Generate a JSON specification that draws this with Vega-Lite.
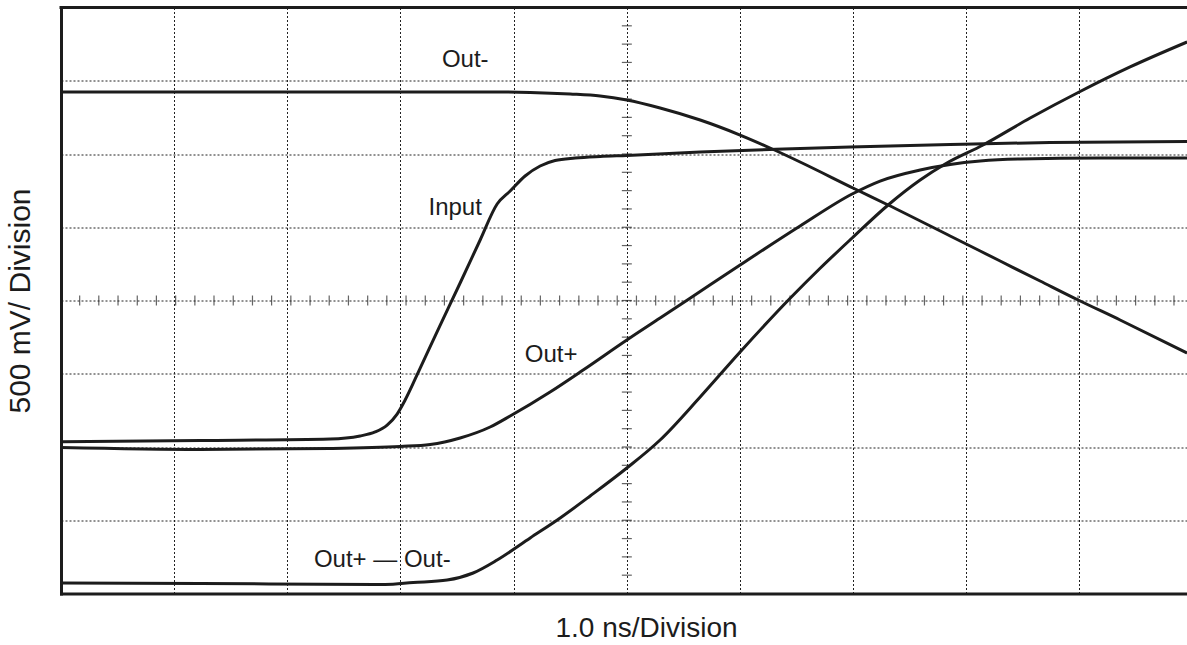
{
  "$schema": "https://vega.github.io/schema/vega-lite/v6.json",
  "width": 1126,
  "height": 586,
  "autosize": {"type": "none"},
  "padding": {"left": 61, "top": 7.5, "right": 0, "bottom": 51.5},
  "background": "white",
  "config": {"view": {"stroke": null}, "font": "Liberation Sans"},
  "datasets": {
    "curves": [
      {"series": "Out-", "x": -5.0, "y": 2.846},
      {"series": "Out-", "x": -2.887, "y": 2.846},
      {"series": "Out-", "x": -1.12, "y": 2.846},
      {"series": "Out-", "x": -0.854, "y": 2.84},
      {"series": "Out-", "x": -0.501, "y": 2.819},
      {"series": "Out-", "x": -0.236, "y": 2.792},
      {"series": "Out-", "x": 0.0, "y": 2.737},
      {"series": "Out-", "x": 0.294, "y": 2.628},
      {"series": "Out-", "x": 0.648, "y": 2.464},
      {"series": "Out-", "x": 1.001, "y": 2.259},
      {"series": "Out-", "x": 1.266, "y": 2.082},
      {"series": "Out-", "x": 1.531, "y": 1.891},
      {"series": "Out-", "x": 2.017, "y": 1.522},
      {"series": "Out-", "x": 2.309, "y": 1.304},
      {"series": "Out-", "x": 2.857, "y": 0.881},
      {"series": "Out-", "x": 3.299, "y": 0.539},
      {"series": "Out-", "x": 3.652, "y": 0.266},
      {"series": "Out-", "x": 3.988, "y": 0.007},
      {"series": "Out-", "x": 4.359, "y": -0.266},
      {"series": "Out-", "x": 4.951, "y": -0.717},
      {"series": "Input", "x": -5.0, "y": -1.928},
      {"series": "Input", "x": -3.77, "y": -1.911},
      {"series": "Input", "x": -2.622, "y": -1.891},
      {"series": "Input", "x": -2.357, "y": -1.85},
      {"series": "Input", "x": -2.224, "y": -1.795},
      {"series": "Input", "x": -2.118, "y": -1.7},
      {"series": "Input", "x": -2.03, "y": -1.55},
      {"series": "Input", "x": -1.959, "y": -1.358},
      {"series": "Input", "x": -1.826, "y": -0.922},
      {"series": "Input", "x": -1.65, "y": -0.341},
      {"series": "Input", "x": -1.473, "y": 0.239},
      {"series": "Input", "x": -1.296, "y": 0.826},
      {"series": "Input", "x": -1.146, "y": 1.317},
      {"series": "Input", "x": -1.031, "y": 1.495},
      {"series": "Input", "x": -0.899, "y": 1.7},
      {"series": "Input", "x": -0.766, "y": 1.836},
      {"series": "Input", "x": -0.634, "y": 1.911},
      {"series": "Input", "x": -0.457, "y": 1.945},
      {"series": "Input", "x": -0.236, "y": 1.966},
      {"series": "Input", "x": 0.0, "y": 1.98},
      {"series": "Input", "x": 0.648, "y": 2.027},
      {"series": "Input", "x": 1.266, "y": 2.061},
      {"series": "Input", "x": 1.973, "y": 2.096},
      {"series": "Input", "x": 2.857, "y": 2.13},
      {"series": "Input", "x": 3.74, "y": 2.157},
      {"series": "Input", "x": 4.951, "y": 2.171},
      {"series": "Out+", "x": -5.0, "y": -2.007},
      {"series": "Out+", "x": -3.77, "y": -2.034},
      {"series": "Out+", "x": -2.622, "y": -2.02},
      {"series": "Out+", "x": -2.003, "y": -1.993},
      {"series": "Out+", "x": -1.738, "y": -1.966},
      {"series": "Out+", "x": -1.473, "y": -1.877},
      {"series": "Out+", "x": -1.208, "y": -1.727},
      {"series": "Out+", "x": -1.031, "y": -1.577},
      {"series": "Out+", "x": -0.678, "y": -1.249},
      {"series": "Out+", "x": -0.386, "y": -0.949},
      {"series": "Out+", "x": 0.0, "y": -0.539},
      {"series": "Out+", "x": 0.294, "y": -0.239},
      {"series": "Out+", "x": 0.542, "y": 0.014},
      {"series": "Out+", "x": 1.001, "y": 0.485},
      {"series": "Out+", "x": 1.531, "y": 1.017},
      {"series": "Out+", "x": 1.991, "y": 1.454},
      {"series": "Out+", "x": 2.238, "y": 1.631},
      {"series": "Out+", "x": 2.592, "y": 1.782},
      {"series": "Out+", "x": 2.857, "y": 1.857},
      {"series": "Out+", "x": 3.122, "y": 1.904},
      {"series": "Out+", "x": 3.475, "y": 1.932},
      {"series": "Out+", "x": 4.182, "y": 1.945},
      {"series": "Out+", "x": 4.951, "y": 1.945},
      {"series": "Out+ — Out-", "x": -5.0, "y": -3.857},
      {"series": "Out+ — Out-", "x": -3.77, "y": -3.863},
      {"series": "Out+ — Out-", "x": -2.136, "y": -3.877},
      {"series": "Out+ — Out-", "x": -1.888, "y": -3.85},
      {"series": "Out+ — Out-", "x": -1.588, "y": -3.816},
      {"series": "Out+ — Out-", "x": -1.358, "y": -3.72},
      {"series": "Out+ — Out-", "x": -1.146, "y": -3.543},
      {"series": "Out+ — Out-", "x": -0.854, "y": -3.242},
      {"series": "Out+ — Out-", "x": -0.589, "y": -2.969},
      {"series": "Out+ — Out-", "x": -0.324, "y": -2.669},
      {"series": "Out+ — Out-", "x": 0.0, "y": -2.287},
      {"series": "Out+ — Out-", "x": 0.294, "y": -1.904},
      {"series": "Out+ — Out-", "x": 0.648, "y": -1.317},
      {"series": "Out+ — Out-", "x": 1.001, "y": -0.703},
      {"series": "Out+ — Out-", "x": 1.443, "y": 0.03},
      {"series": "Out+ — Out-", "x": 1.708, "y": 0.44},
      {"series": "Out+ — Out-", "x": 1.991, "y": 0.853},
      {"series": "Out+ — Out-", "x": 2.309, "y": 1.304},
      {"series": "Out+ — Out-", "x": 2.592, "y": 1.645},
      {"series": "Out+ — Out-", "x": 2.813, "y": 1.864},
      {"series": "Out+ — Out-", "x": 3.148, "y": 2.123},
      {"series": "Out+ — Out-", "x": 3.564, "y": 2.491},
      {"series": "Out+ — Out-", "x": 3.997, "y": 2.846},
      {"series": "Out+ — Out-", "x": 4.447, "y": 3.188},
      {"series": "Out+ — Out-", "x": 4.951, "y": 3.529}
    ],
    "hticks": [
      {"t": -4.835}, {"t": -4.666}, {"t": -4.496}, {"t": -4.326}, {"t": -4.157}, {"t": -3.987}, {"t": -3.817}, {"t": -3.648}, {"t": -3.478}, {"t": -3.308},
      {"t": -3.139}, {"t": -2.969}, {"t": -2.799}, {"t": -2.63}, {"t": -2.46}, {"t": -2.29}, {"t": -2.121}, {"t": -1.951}, {"t": -1.781}, {"t": -1.612},
      {"t": -1.442}, {"t": -1.272}, {"t": -1.103}, {"t": -0.933}, {"t": -0.764}, {"t": -0.594}, {"t": -0.424}, {"t": -0.255}, {"t": -0.085},
      {"t": 0.085}, {"t": 0.255}, {"t": 0.424}, {"t": 0.594}, {"t": 0.764}, {"t": 0.933}, {"t": 1.103}, {"t": 1.272}, {"t": 1.442}, {"t": 1.612},
      {"t": 1.781}, {"t": 1.951}, {"t": 2.121}, {"t": 2.29}, {"t": 2.46}, {"t": 2.63}, {"t": 2.799}, {"t": 2.969}, {"t": 3.139}, {"t": 3.308},
      {"t": 3.478}, {"t": 3.648}, {"t": 3.817}, {"t": 3.987}, {"t": 4.157}, {"t": 4.326}, {"t": 4.496}, {"t": 4.666}, {"t": 4.835}
    ],
    "vticks": [
      {"t": -3.75}, {"t": -3.5}, {"t": -3.25}, {"t": -3.0}, {"t": -2.75}, {"t": -2.5}, {"t": -2.25}, {"t": -2.0}, {"t": -1.75}, {"t": -1.5},
      {"t": -1.25}, {"t": -1.0}, {"t": -0.75}, {"t": -0.5}, {"t": -0.25}, {"t": 0.0}, {"t": 0.25}, {"t": 0.5}, {"t": 0.75}, {"t": 1.0},
      {"t": 1.25}, {"t": 1.5}, {"t": 1.75}, {"t": 2.0}, {"t": 2.25}, {"t": 2.5}, {"t": 2.75}, {"t": 3.0}, {"t": 3.25}, {"t": 3.5}, {"t": 3.75}
    ],
    "labels": [
      {"label": "Out-", "x": -1.428, "y": 3.28},
      {"label": "Input", "x": -1.517, "y": 1.263},
      {"label": "Out+", "x": -0.669, "y": -0.744},
      {"label": "Out+ — Out-", "x": -2.161, "y": -3.543}
    ],
    "frame": [{"edge": 4}]
  },
  "layer": [
    {
      "data": {"name": "curves"},
      "mark": {"type": "line", "interpolate": "monotone", "color": "#1c1c1c", "strokeWidth": 3},
      "encoding": {
        "x": {
          "field": "x", "type": "quantitative",
          "scale": {"domain": [-5, 4.95], "nice": false, "zero": false},
          "axis": {
            "values": [-4, -3, -2, -1, 0, 1, 2, 3, 4],
            "grid": true, "gridDash": [2, 2], "gridColor": "#222", "gridWidth": 1,
            "ticks": false, "labels": false,
            "domain": true, "domainWidth": 3, "domainColor": "#1c1c1c", "domainCap": "square",
            "title": "1.0 ns/Division", "titleFont": "Liberation Sans", "titleFontSize": 28,
            "titleFontWeight": "normal", "titleColor": "#1c1c1c", "titlePadding": 21, "titleX": 585
          }
        },
        "y": {
          "field": "y", "type": "quantitative",
          "scale": {"domain": [-4, 4], "nice": false, "zero": false},
          "axis": {
            "values": [-3, -2, -1, 0, 1, 2, 3],
            "grid": true, "gridDash": [2, 2], "gridColor": "#222", "gridWidth": 1,
            "ticks": false, "labels": false,
            "domain": true, "domainWidth": 3, "domainColor": "#1c1c1c", "domainCap": "square",
            "title": "500 mV/ Division", "titleFont": "Liberation Sans", "titleFontSize": 30,
            "titleFontWeight": "normal", "titleColor": "#1c1c1c", "titlePadding": 26
          }
        },
        "detail": {"field": "series", "type": "nominal"}
      }
    },
    {
      "data": {"name": "hticks"},
      "mark": {"type": "tick", "orient": "vertical", "size": 10, "thickness": 1.2, "color": "#222"},
      "encoding": {
        "x": {"field": "t", "type": "quantitative"},
        "y": {"datum": 0, "type": "quantitative"}
      }
    },
    {
      "data": {"name": "vticks"},
      "mark": {"type": "tick", "orient": "horizontal", "size": 10, "thickness": 1.2, "color": "#222"},
      "encoding": {
        "y": {"field": "t", "type": "quantitative"},
        "x": {"datum": 0, "type": "quantitative"}
      }
    },
    {
      "data": {"name": "frame"},
      "mark": {"type": "rule", "color": "#1c1c1c", "strokeWidth": 3, "strokeCap": "square"},
      "encoding": {"y": {"field": "edge", "type": "quantitative"}}
    },
    {
      "data": {"name": "labels"},
      "mark": {"type": "text", "font": "Liberation Sans", "fontSize": 24, "color": "#1c1c1c", "align": "center", "baseline": "middle"},
      "encoding": {
        "x": {"field": "x", "type": "quantitative"},
        "y": {"field": "y", "type": "quantitative"},
        "text": {"field": "label", "type": "nominal"}
      }
    }
  ]
}
